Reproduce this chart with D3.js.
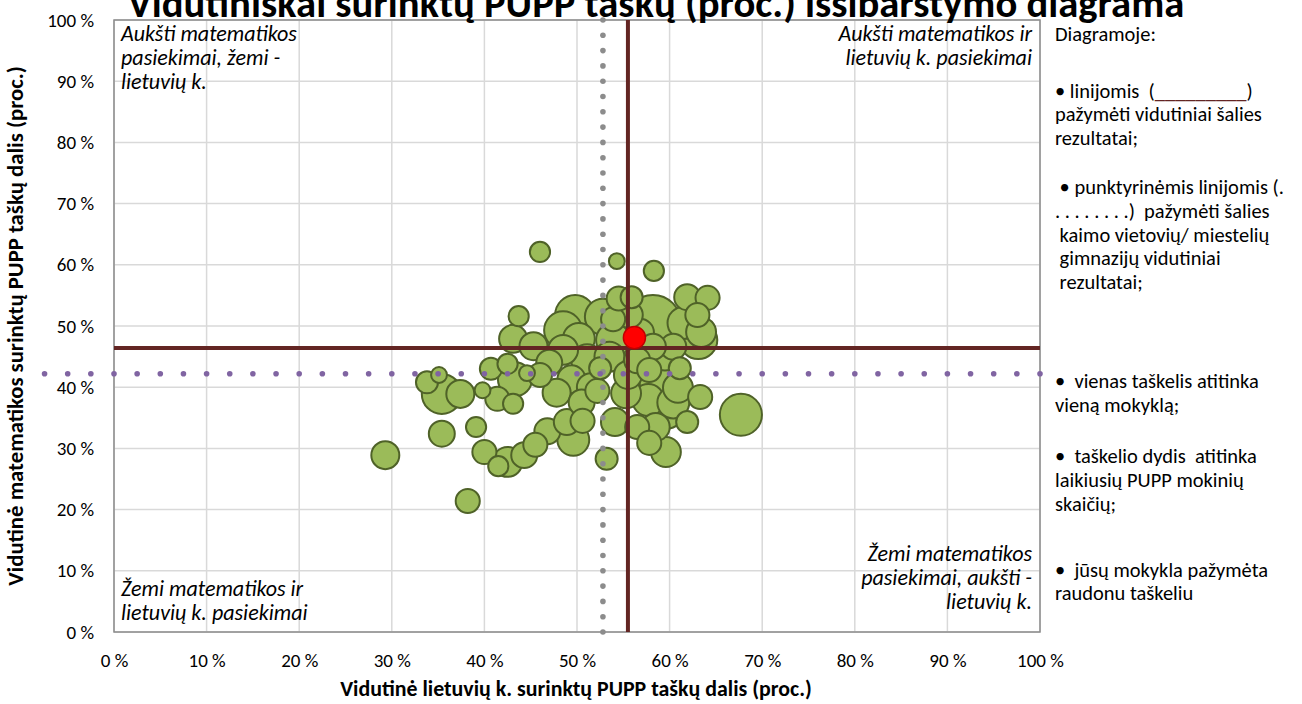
<!DOCTYPE html>
<html>
<head>
<meta charset="utf-8">
<script src="https://cdn.jsdelivr.net/npm/d3@7"></script>
<style>
  body { margin: 0; background: #fff; }
  text { font-family: Carlito, Calibri, Lato, sans-serif; }
</style>
</head>
<body>
<div id="chart"></div>
<script>
// schools: lithuanian %, math %, pupils who sat PUPP
const lit = [29.3, 38.2, 35.4, 39.1, 35.4, 37.4, 33.8, 35.1, 39.8, 41.4, 43.1, 40.7, 43.1, 43.7, 42.5, 43.3, 40.0, 41.5, 42.5, 44.3,
  45.5, 46.8, 49.6, 48.9, 50.6, 46.0, 54.3, 58.3, 45.3, 49.8, 48.5, 50.2, 52.8, 53.9, 55.9, 55.7, 58.2, 61.9, 64.1, 63.0,
  63.4, 63.1, 60.4, 53.9, 56.8, 58.2, 56.5, 57.8, 61.1, 60.9, 58.6, 63.3, 59.6, 55.3, 57.7, 54.1, 56.5, 57.8, 59.6, 61.9,
  67.7, 53.2, 52.2, 49.4, 47.8, 46.0, 44.6, 51.1, 52.5, 48.5, 54.5, 51.5, 50.5, 55.5, 53.5, 59.5, 61.5, 47.0, 58.5, 60.4]
const mat = [28.9, 21.4, 32.4, 33.5, 38.9, 38.9, 40.8, 42.0, 39.5, 38.1, 37.3, 43.0, 47.9, 51.6, 43.8, 41.3, 29.4, 27.1, 27.8, 28.9,
  30.6, 32.8, 31.4, 34.3, 34.5, 62.1, 60.6, 59.0, 46.7, 51.8, 49.3, 47.9, 51.5, 51.1, 54.7, 51.8, 50.5, 54.7, 54.6, 51.8,
  49.0, 47.7, 46.6, 47.7, 48.9, 46.6, 44.4, 42.8, 43.1, 39.9, 40.8, 38.4, 36.3, 39.0, 37.9, 34.3, 33.5, 30.9, 29.4, 34.3,
  35.5, 28.3, 39.4, 41.3, 39.1, 42.0, 42.3, 44.4, 43.1, 46.1, 54.5, 40.0, 37.5, 42.0, 45.0, 45.0, 50.5, 44.0, 33.5, 37.5]
const pupils = [50, 37, 43, 26, 102, 50, 31, 16, 16, 37, 26, 31, 50, 26, 26, 74, 37, 26, 57, 43,
  37, 43, 65, 43, 37, 26, 16, 26, 50, 102, 92, 65, 83, 37, 31, 43, 200, 43, 37, 37,
  57, 92, 43, 74, 50, 43, 43, 37, 31, 57, 74, 37, 92, 57, 65, 50, 37, 37, 57, 31,
  113, 31, 37, 50, 50, 37, 16, 65, 31, 57, 37, 50, 43, 50, 57, 50, 65, 43, 50, 65]

// your school
const ownSchool = { lit: 56.2, mat: 48.1, pupils: 31 }

// country averages and rural gymnasium averages
const countryAvg = { lit: 55.5, mat: 46.4 }
const ruralAvg = { lit: 52.8, mat: 42.2 }
const ruralLitRange = [0, 100]
const ruralMatRange = [-7.5, 100]

const ticks = [0, 10, 20, 30, 40, 50, 60, 70, 80, 90, 100]

const title = 'Vidutiniškai surinktų PUPP taškų (proc.) išsibarstymo diagrama'
const xTitle = 'Vidutinė lietuvių k. surinktų PUPP taškų dalis (proc.)'
const yTitle = 'Vidutinė matematikos surinktų PUPP taškų dalis (proc.)'
const notes = [
  ['Diagramoje:', 0],
  ['• linijomis  (', 2.4],
  ['pažymėti vidutiniai šalies', 3.4],
  ['rezultatai;', 4.4],
  [' • punktyrinėmis linijomis (.', 6.5],
  ['. . . . . . . .)  pažymėti šalies', 7.5],
  [' kaimo vietovių/ miestelių', 8.5],
  [' gimnazijų vidutiniai', 9.5],
  [' rezultatai;', 10.5],
  ['•  vienas taškelis atitinka', 14.7],
  ['vieną mokyklą;', 15.7],
  ['•  taškelio dydis  atitinka', 17.9],
  ['laikiusių PUPP mokinių', 18.9],
  ['skaičių;', 19.9],
  ['•  jūsų mokykla pažymėta', 22.7],
  ['raudonu taškeliu', 23.7]
]

// layout
const width = 1302
const height = 704
const margin = { left: 114, right: 262, top: 20, bottom: 72 }
const plotW = width - margin.left - margin.right
const plotH = height - margin.top - margin.bottom

const x = d3.scaleLinear().domain([0, 100]).range([margin.left, margin.left + plotW])
const y = d3.scaleLinear().domain([0, 100]).range([margin.top + plotH, margin.top])
const r = d3.scaleSqrt().domain([0, 200]).range([0, 28])

const svg = d3.select('#chart').append('svg')
  .attr('width', width)
  .attr('height', height)

// shrink/grow font so the text spans a given width
const fit = (sel, target) => {
  const w = sel.node().getComputedTextLength()
  const fs = parseFloat(sel.style('font-size'))
  sel.style('font-size', (fs * target / w) + 'px')
  return sel.style('font-size')
}

// grid
svg.append('g').selectAll('line.vx')
  .data(ticks).enter().append('line')
  .attr('x1', d => x(d)).attr('x2', d => x(d))
  .attr('y1', y(0)).attr('y2', y(100))
  .attr('stroke', '#d9d9d9').attr('stroke-width', 1.5)
svg.append('g').selectAll('line.hy')
  .data(ticks).enter().append('line')
  .attr('x1', x(0)).attr('x2', x(100))
  .attr('y1', d => y(d)).attr('y2', d => y(d))
  .attr('stroke', '#d9d9d9').attr('stroke-width', 1.5)

svg.append('rect')
  .attr('x', x(0)).attr('y', y(100))
  .attr('width', plotW).attr('height', plotH)
  .attr('fill', 'none').attr('stroke', '#8c8c8c').attr('stroke-width', 1.5)

// axes labels
svg.append('g')
  .attr('transform', `translate(0,${y(0)})`)
  .call(d3.axisBottom(x).tickValues(ticks).tickSize(0).tickPadding(22).tickFormat(d => d + ' %'))
svg.append('g')
  .attr('transform', `translate(${x(0)},0)`)
  .call(d3.axisLeft(y).tickValues(ticks).tickSize(0).tickPadding(20).tickFormat(d => d + ' %'))
svg.selectAll('.domain').remove()
svg.selectAll('.tick text')
  .style('font-size', '19px')
  .style('font-family', 'Carlito, Calibri, Lato, sans-serif')
  .attr('fill', '#000')

// quadrant notes
const quad = [
  { lines: ['Aukšti matematikos', 'pasiekimai, žemi -', 'lietuvių k.'], x: x(0) + 7, y: y(100) + 21, anchor: 'start' },
  { lines: ['Aukšti matematikos ir', 'lietuvių k. pasiekimai'], x: x(100) - 8, y: y(100) + 21, anchor: 'end' },
  { lines: ['Žemi matematikos ir', 'lietuvių k. pasiekimai'], x: x(0) + 7, y: y(0) - 36, anchor: 'start' },
  { lines: ['Žemi matematikos', 'pasiekimai, aukšti -', 'lietuvių k.'], x: x(100) - 8, y: y(0) - 71, anchor: 'end' }
]
const quadTexts = []
quad.forEach(q => {
  const sel = svg.append('g').selectAll('text')
    .data(q.lines).enter().append('text')
    .attr('x', q.x)
    .attr('y', (d, i) => q.y + i * 24)
    .attr('text-anchor', q.anchor)
    .style('font-style', 'italic')
    .style('font-size', '18px')
    .text(d => d)
  quadTexts.push(sel)
})
const quadSize = fit(quadTexts[0].filter((d, i) => i === 0), 176)
quadTexts.forEach(s => s.style('font-size', quadSize))

// bubbles, big ones below
const schools = lit.map((d, i) => ({ lit: d, mat: mat[i], pupils: pupils[i] }))
  .sort((a, b) => b.pupils - a.pupils)

svg.append('g').selectAll('circle')
  .data(schools).enter().append('circle')
  .attr('cx', d => x(d.lit))
  .attr('cy', d => y(d.mat))
  .attr('r', d => r(d.pupils))
  .attr('fill', '#9bbb59')
  .attr('stroke', '#4f6228')
  .attr('stroke-width', 2)

// average lines
svg.append('line')
  .attr('x1', x(countryAvg.lit)).attr('x2', x(countryAvg.lit))
  .attr('y1', y(0)).attr('y2', y(100))
  .attr('stroke', '#632523').attr('stroke-width', 4)
svg.append('line')
  .attr('x1', x(0)).attr('x2', x(100))
  .attr('y1', y(countryAvg.mat)).attr('y2', y(countryAvg.mat))
  .attr('stroke', '#632523').attr('stroke-width', 4)

// dotted lines, a dot every 2.5 %
const dotsV = d3.range(ruralLitRange[0], ruralLitRange[1] + 0.01, 2.5)
const dotsH = d3.range(ruralMatRange[0], ruralMatRange[1] + 0.01, 2.5)
svg.append('g').selectAll('circle')
  .data(dotsV).enter().append('circle')
  .attr('cx', x(ruralAvg.lit))
  .attr('cy', d => y(d))
  .attr('r', 2.8)
  .attr('fill', '#8c8c8c')
svg.append('g').selectAll('circle')
  .data(dotsH).enter().append('circle')
  .attr('cx', d => x(d))
  .attr('cy', y(ruralAvg.mat))
  .attr('r', 2.8)
  .attr('fill', '#8064a2')

// own school
svg.append('circle')
  .attr('cx', x(ownSchool.lit))
  .attr('cy', y(ownSchool.mat))
  .attr('r', r(ownSchool.pupils))
  .attr('fill', '#ff0000')
  .attr('stroke', '#c00000')
  .attr('stroke-width', 1.5)

// titles
const t = svg.append('text')
  .attr('x', 656).attr('y', 17)
  .attr('text-anchor', 'middle')
  .style('font-weight', 'bold')
  .style('font-size', '30px')
  .text(title)
fit(t, 1057)

const xt = svg.append('text')
  .attr('x', 576).attr('y', 696)
  .attr('text-anchor', 'middle')
  .style('font-weight', 'bold')
  .style('font-size', '16px')
  .text(xTitle)
fit(xt, 472)

const yt = svg.append('text')
  .attr('transform', `translate(23,326) rotate(-90)`)
  .attr('text-anchor', 'middle')
  .style('font-weight', 'bold')
  .style('font-size', '16px')
  .text(yTitle)
fit(yt, 520)

// side notes
const noteG = svg.append('g')
const noteTexts = noteG.selectAll('text')
  .data(notes).enter().append('text')
  .attr('x', 1055)
  .attr('y', d => 41 + d[1] * 23.6)
  .style('font-size', '18px')
  .attr('xml:space', 'preserve')
  .style('white-space', 'pre')
  .text(d => d[0])
const noteSize = fit(noteTexts.filter((d, i) => i === 2), 207)
noteTexts.style('font-size', noteSize)

// dark red underline blank in the first note
const first = noteTexts.filter((d, i) => i === 1)
const fx = 1055 + first.node().getComputedTextLength()
const blank = noteG.append('text')
  .attr('x', fx).attr('y', first.attr('y'))
  .style('font-size', noteSize)
  .attr('fill', '#632523')
  .text('_________')
noteG.append('text')
  .attr('x', fx + blank.node().getComputedTextLength()).attr('y', first.attr('y'))
  .style('font-size', noteSize)
  .text(')')
</script>
</body>
</html>
